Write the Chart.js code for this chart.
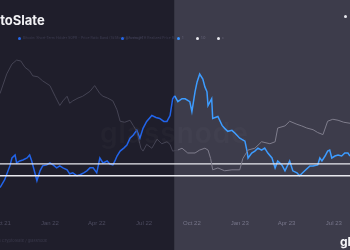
<!DOCTYPE html>
<html lang="en">
<head>
  <meta charset="UTF-8">
  <title>Bitcoin STH | CryptoSlate</title>
  <script src="https://cdn.jsdelivr.net/npm/chart.js"></script>
  <style>
    body {
      margin: 0;
      background: #1f1e2b;
      font-family: 'Inter', 'Open Sans', sans-serif;
      overflow: hidden;
    }
    .wrap {
      position: relative;
      width: 350px;
      height: 250px;
    }
    .title {
      position: absolute;
      left: -31px;
      top: 12px;
      font-size: 13px;
      font-weight: 700;
      color: #f2f2f5;
      white-space: nowrap;
    }
    .legend {
      position: absolute;
      top: 36px;
      left: 0;
      width: 350px;
      font-size: 3.5px;
      color: #3e3d52;
      white-space: nowrap;
    }
    .legend span { position: absolute; top: 0; }
    .legend i {
      position: absolute;
      top: 1px;
      width: 3px;
      height: 3px;
      border-radius: 50%;
    }
    .dot {
      position: absolute;
      width: 3px;
      height: 3px;
      border-radius: 50%;
      background: #e8e8ee;
    }
    .footer {
      position: absolute;
      left: -14px;
      top: 238px;
      font-size: 4px;
      color: #3b3a4c;
      white-space: nowrap;
    }
    .logo {
      position: absolute;
      left: 340px;
      top: 234px;
      font-size: 12px;
      font-weight: 700;
      color: #f4f4f7;
      white-space: nowrap;
    }
    .mark {
      position: absolute;
      left: 100px;
      top: 116px;
      font-size: 28px;
      font-weight: 600;
      color: rgba(255,255,255,0.022);
      white-space: nowrap;
      letter-spacing: 1px;
    }
  </style>
</head>
<body>
  <div class="wrap">
    <canvas id="sthChart"></canvas>
    <div class="mark">glassnode</div>
    <div class="title">CryptoSlate</div>
    <div class="legend">
      <span style="left:-8px">BTC</span>
      <i style="left:18px;background:#2466e8"></i>
      <span style="left:23px">Bitcoin: Short-Term Holder SOPR - Price Ratio Band (7d Moving Average)</span>
      <i style="left:121px;background:#2466e8"></i>
      <span style="left:126px">Bitcoin: STH Realized Price Ratio</span>
      <i style="left:177px;background:#3b95ff"></i>
      <span style="left:182px;color:#6a697c">1</span>
      <i style="left:196px;background:#e8e8ee"></i>
      <span style="left:201px;color:#6a697c">1.0</span>
      <i style="left:217px;background:#e8e8ee"></i>
      <span style="left:222px;color:#6a697c">c</span>
    </div>
    <div class="dot" style="left:344px;top:15px"></div>
    <div class="footer">© 2023 CryptoSlate / glassnode</div>
    <div class="logo">glassnode</div>
  </div>

  <script>
    // x values are days since 1 Oct 2021
    const tickDays = [0, 92, 182, 273, 365, 457, 547, 638];
    const tickLabels = ['Oct 21', 'Jan 22', 'Apr 22', 'Jul 22', 'Oct 22', 'Jan 23', 'Apr 23', 'Jul 23'];
    const splitDay = 331;

    // BTC price (USD), grey line
    const priceDays = [-4, 9, 19, 28, 36, 44, 53, 59, 69, 78, 92, 102, 111, 117, 125, 130, 136, 146, 155, 169,
      178, 188, 194, 203, 213, 221, 227, 236, 246, 252, 259, 267, 271, 278, 288, 298, 307, 317, 323, 328,
      338, 346, 357, 371, 380, 390, 396, 401, 405, 415, 428, 442, 457, 463, 473, 486, 499, 515, 525, 530,
      544, 553, 567, 576, 586, 598, 607, 617, 626, 636, 646, 657, 669];
    const priceValues = [44100, 56900, 64700, 68100, 67300, 62000, 59200, 55500, 54800, 52000, 48900, 42600, 37800, 40100, 42600, 38900, 40100, 41600, 42600, 45400,
      48900, 44100, 42600, 41600, 40100, 35700, 30800, 30400, 31200, 29200, 27000, 21700, 20900, 22800, 21700, 24400, 23000, 23600, 22800, 20900,
      21200, 21700, 20400, 20400, 21200, 21700, 21200, 19000, 16400, 16800, 16200, 16400, 16400, 19000, 21200, 21700, 23600, 23000, 23600, 28200,
      29000, 30800, 29600, 29000, 28200, 27600, 26600, 25900, 30800, 31600, 31200, 30400, 30000];

    // STH ratio, blue line
    const ratioDays = [-4, 5, 15, 19, 25, 28, 34, 40, 48, 53, 57, 63, 67, 73, 78, 86, 92, 98, 105, 111,
      117, 125, 130, 136, 144, 150, 157, 163, 169, 175, 182, 188, 194, 202, 207, 213, 217, 221, 227, 234,
      240, 246, 252, 259, 265, 271, 278, 288, 296, 303, 311, 317, 323, 328, 332, 338, 346, 352, 361, 365,
      371, 375, 380, 386, 390, 394, 396, 403, 405, 415, 423, 428, 434, 442, 448, 457, 467, 471, 473, 480,
      486, 492, 499, 505, 511, 519, 525, 530, 538, 544, 553, 559, 567, 572, 582, 592, 598, 607, 611, 615,
      621, 626, 630, 634, 640, 646, 653, 659, 665, 669];
    const ratioValues = [0.25, 0.33, 0.47, 0.55, 0.58, 0.50, 0.52, 0.53, 0.55, 0.58, 0.52, 0.40, 0.32, 0.42, 0.47, 0.48, 0.50, 0.48, 0.45, 0.47,
      0.45, 0.43, 0.39, 0.40, 0.37, 0.38, 0.40, 0.42, 0.45, 0.45, 0.40, 0.55, 0.50, 0.52, 0.49, 0.48, 0.52, 0.57, 0.62, 0.65,
      0.68, 0.75, 0.78, 0.83, 0.75, 0.85, 0.92, 0.98, 0.96, 0.95, 0.92, 0.92, 0.98, 1.15, 1.18, 1.12, 1.15, 1.15, 1.12, 1.02,
      1.22, 1.32, 1.40, 1.35, 1.27, 1.22, 1.08, 1.15, 0.95, 0.97, 0.88, 0.85, 0.82, 0.83, 0.80, 0.75, 0.72, 0.62, 0.55, 0.60,
      0.62, 0.65, 0.63, 0.65, 0.60, 0.55, 0.45, 0.52, 0.48, 0.42, 0.52, 0.42, 0.40, 0.37, 0.42, 0.47, 0.47, 0.48, 0.55, 0.52,
      0.57, 0.62, 0.63, 0.55, 0.57, 0.58, 0.57, 0.60, 0.60, 0.57];

    // horizontal band levels (white lines)
    const bandLevels = [0.49, 0.37];

    const xMin = -4, xMax = 669;

    const toPoints = (xs, ys) => xs.map((x, i) => ({ x: x, y: ys[i] }));

    const splitBackground = {
      id: 'splitBackground',
      beforeDraw(chart) {
        const c = chart.ctx;
        const sx = chart.scales.x.getPixelForValue(splitDay);
        c.save();
        c.fillStyle = '#1f1e2b';
        c.fillRect(0, 0, sx, chart.height);
        c.fillStyle = '#3d3c4b';
        c.fillRect(sx, 0, chart.width - sx, chart.height);
        c.restore();
      }
    };

    const bandSets = bandLevels.map(v => ({
      data: [{ x: xMin, y: v }, { x: xMax, y: v }],
      yAxisID: 'y1',
      borderColor: '#e9e9ef',
      borderWidth: 1.3,
      pointRadius: 0
    }));

    const ctx = document.getElementById('sthChart').getContext('2d');
    new Chart(ctx, {
      type: 'line',
      data: {
        datasets: [
          {
            label: 'BTC Price',
            data: toPoints(priceDays, priceValues),
            yAxisID: 'y',
            borderWidth: 1,
            pointRadius: 0,
            tension: 0,
            segment: {
              borderColor: s => s.p0.parsed.x >= splitDay ? '#7f7d8c' : '#454454'
            }
          },
          ...bandSets,
          {
            label: 'STH Ratio',
            data: toPoints(ratioDays, ratioValues),
            yAxisID: 'y1',
            borderWidth: 1.5,
            pointRadius: 0,
            tension: 0,
            segment: {
              borderColor: s => s.p0.parsed.x >= splitDay ? '#3d9cff' : '#2264ea'
            }
          }
        ]
      },
      options: {
        responsive: true,
        maintainAspectRatio: false,
        animation: false,
        layout: { padding: { left: 0, right: 0, top: 0, bottom: 15.5 } },
        plugins: {
          legend: { display: false },
          tooltip: { enabled: false }
        },
        scales: {
          x: {
            type: 'linear',
            min: xMin,
            max: xMax,
            grid: { display: false, drawTicks: false },
            border: { display: false },
            afterBuildTicks: axis => {
              axis.ticks = tickDays.map(v => ({ value: v }));
            },
            afterFit: axis => {
              axis.paddingLeft = 0;
              axis.paddingRight = 0;
            },
            ticks: {
              autoSkip: false,
              maxRotation: 0,
              padding: 7.5,
              font: { size: 6 },
              color: c => c.tick && c.tick.value > splitDay ? '#77768a' : '#4d4c60',
              callback: function(value) {
                const i = tickDays.indexOf(value);
                return i >= 0 ? tickLabels[i] : '';
              }
            }
          },
          y: {
            type: 'logarithmic',
            display: false,
            min: 9450,
            max: 148500
          },
          y1: {
            type: 'linear',
            display: false,
            min: 0,
            max: 2.15
          }
        }
      },
      plugins: [splitBackground]
    });
  </script>
</body>
</html>
